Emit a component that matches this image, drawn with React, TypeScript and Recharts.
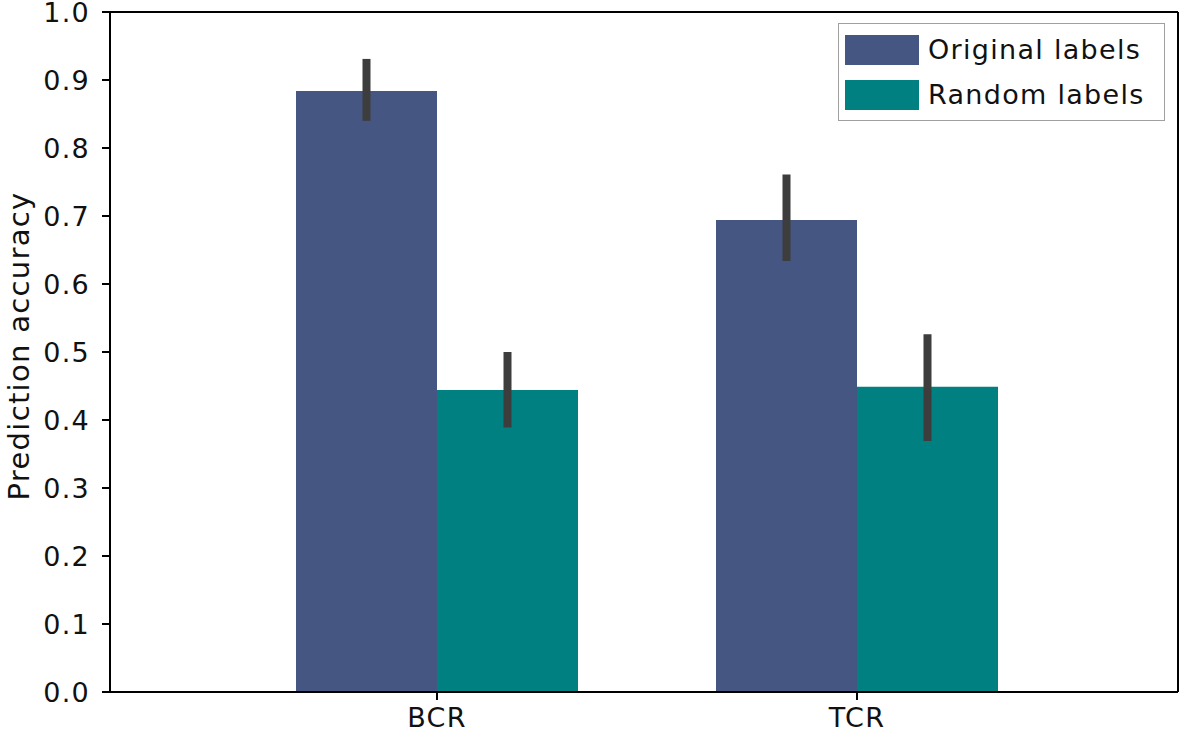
import React from "react";
import { BarChart, Bar, XAxis, YAxis, ErrorBar, Legend } from "recharts";

const categories = ["BCR", "TCR"];
const originalMean = [0.884, 0.694];
const originalLow = [0.84, 0.634];
const originalHigh = [0.931, 0.761];
const randomMean = [0.444, 0.449];
const randomLow = [0.389, 0.369];
const randomHigh = [0.5, 0.526];
const yTicks = [0, 0.1, 0.2, 0.3, 0.4, 0.5, 0.6, 0.7, 0.8, 0.9, 1.0];
const seriesNames = ["Original labels", "Random labels"];

const ORIG = "#465682";
const RAND = "#008080";
const FONT = "'DejaVu Sans', Verdana, sans-serif";

const data = categories.map((c, i) => ({
  name: c,
  original: originalMean[i],
  originalErr: [originalMean[i] - originalLow[i], originalHigh[i] - originalMean[i]],
  random: randomMean[i],
  randomErr: [randomMean[i] - randomLow[i], randomHigh[i] - randomMean[i]],
}));

const LegendBox = () => (
  <div
    style={{
      border: "1.5px solid #a0a0a0",
      background: "#fff",
      padding: "3px 8px 3px 6px",
      fontFamily: FONT,
      fontSize: 27,
      letterSpacing: 1.3,
      color: "#111",
      boxSizing: "border-box",
      width: 327,
    }}
  >
    {[ORIG, RAND].map((col, i) => (
      <div key={i} style={{ display: "flex", alignItems: "center", height: 45 }}>
        <div style={{ width: 74, height: 30, background: col, marginRight: 9, flex: "none" }} />
        <span style={{ whiteSpace: "nowrap", lineHeight: "45px" }}>{seriesNames[i]}</span>
      </div>
    ))}
  </div>
);

export default function App() {
  const tickStyle = { fontFamily: FONT, fontSize: 27, fill: "#111", letterSpacing: 1.3 };
  return (
    <div style={{ position: "absolute", left: 0, top: 0, width: 1181, height: 735, background: "#fff" }}>
      <BarChart
        width={1181}
        height={735}
        data={data}
        margin={{ top: 11, right: 2, bottom: 3, left: 0 }}
        barGap={0}
        barCategoryGap={69}
      >
        <XAxis
          dataKey="name"
          xAxisId={0}
          padding={{ left: 117, right: 111 }}
          height={40}
          tick={tickStyle}
          tickSize={8}
          tickMargin={8}
          axisLine={{ stroke: "#000", strokeWidth: 2 }}
          tickLine={{ stroke: "#000", strokeWidth: 2 }}
        />
        <XAxis
          dataKey="name"
          xAxisId="top"
          orientation="top"
          height={1}
          tick={false}
          tickLine={false}
          axisLine={{ stroke: "#000", strokeWidth: 2 }}
        />
        <YAxis
          yAxisId={0}
          domain={[0, 1]}
          ticks={yTicks}
          interval={0}
          width={110}
          tick={tickStyle}
          tickSize={8}
          tickMargin={12}
          tickFormatter={(v: number) => v.toFixed(1)}
          axisLine={{ stroke: "#000", strokeWidth: 2 }}
          tickLine={{ stroke: "#000", strokeWidth: 2 }}
          label={(props: any) => {
            const vb = props.viewBox || {};
            const cx = (vb.x ?? 0) + 19;
            const cy = (vb.y ?? 0) + (vb.height ?? 0) / 2 - 6;
            return (
              <text
                x={cx}
                y={cy}
                transform={`rotate(-90 ${cx} ${cy})`}
                textAnchor="middle"
                dominantBaseline="central"
                style={{ fontFamily: FONT, fontSize: 29, fill: "#111", letterSpacing: 1.3 }}
              >
                Prediction accuracy
              </text>
            );
          }}
        />
        <YAxis
          yAxisId="right"
          orientation="right"
          width={1}
          domain={[0, 1]}
          tick={false}
          tickLine={false}
          axisLine={{ stroke: "#000", strokeWidth: 2 }}
        />
        <Legend
          verticalAlign="middle"
          align="center"
          layout="horizontal"
          content={<LegendBox />}
          wrapperStyle={{ top: 23, right: 16, left: "auto", bottom: "auto", width: 327 }}
        />
        <Bar dataKey="original" name={seriesNames[0]} fill={ORIG} barSize={141} isAnimationActive={false} xAxisId={0} yAxisId={0}>
          <ErrorBar dataKey="originalErr" width={0} stroke="#3d3d3d" strokeWidth={8} direction="y" />
        </Bar>
        <Bar dataKey="random" name={seriesNames[1]} fill={RAND} barSize={141} isAnimationActive={false} xAxisId={0} yAxisId={0}>
          <ErrorBar dataKey="randomErr" width={0} stroke="#3d3d3d" strokeWidth={8} direction="y" />
        </Bar>
      </BarChart>
    </div>
  );
}
